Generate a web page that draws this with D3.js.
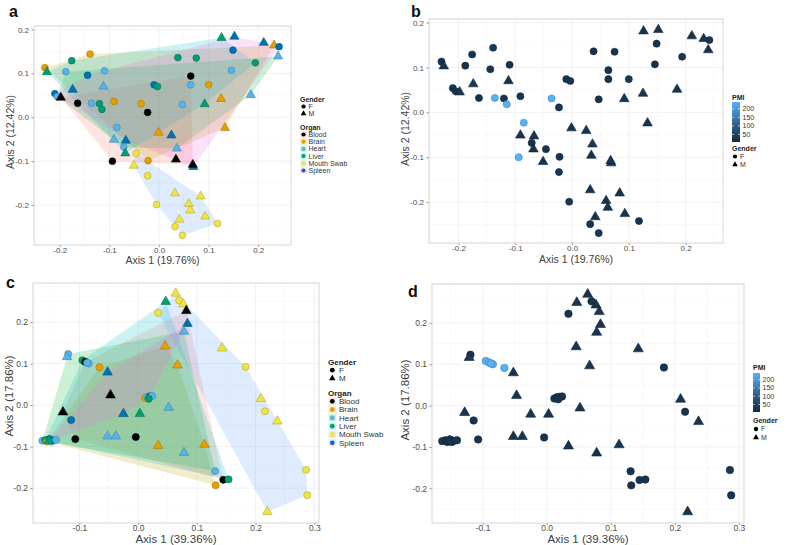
<!DOCTYPE html>
<html><head><meta charset="utf-8">
<script src="https://cdn.jsdelivr.net/npm/d3@7"></script>
<style>
body{margin:0;background:#fff}
text{font-family:"Liberation Sans",Arial,Helvetica,sans-serif}
</style>
</head><body>
<svg id="chart" width="787" height="545"></svg>
<script>
// ---------------- data ----------------
const organs = ["Blood","Brain","Heart","Liver","Mouth Swab","Spleen"];
const organPointColors = ["#000000","#E69F00","#56B4E9","#009E73","#F0E442","#0072B2"];
const organHullColors = ["#F8766D","#B79F00","#00BA38","#00BFC4","#619CFF","#F564E3"];
const genderLabels = ["F","M"];
const pmiTickValues = [50,100,150,200];
const pmiRange = [5,240];
const pmiColors = ["#132B43","#56B1F7"];

const ticksAB = [-0.2,-0.1,0.0,0.1,0.2];
const ticksCDx = [-0.1,0.0,0.1,0.2,0.3];
const ticksCDy = [-0.2,-0.1,0.0,0.1,0.2];
const titlesAB = ["Axis 1 (19.76%)","Axis 2 (12.42%)"];
const titlesCD = ["Axis 1 (39.36%)","Axis 2 (17.86%)"];
const panelLetters = ["a","b","c","d"];

// ordination 1 (panels a, b)
const abX = [-0.230,-0.226,-0.176,-0.139,-0.188,-0.144,-0.110,-0.112,-0.174,-0.210,
 -0.205,-0.198,-0.164,-0.136,-0.120,-0.115,-0.091,-0.036,-0.023,-0.010,
 -0.003,0.038,0.075,0.064,0.064,0.100,0.047,0.092,0.125,0.133,
 0.126,0.152,0.149,0.146,0.194,0.211,0.232,0.242,0.240,0.185,
 -0.085,-0.091,-0.067,-0.071,-0.068,-0.046,-0.094,-0.051,-0.022,-0.023,
 -0.001,0.025,0.036,0.034,0.069,0.068,0.032,0.084,-0.005,0.060,
 0.063,0.093,0.041,0.032,0.047,0.118];
const abY = [0.113,0.103,0.129,0.144,0.104,0.096,0.106,0.070,0.063,0.054,
 0.047,0.045,0.032,0.032,0.031,0.018,0.036,0.031,0.011,0.074,
 0.070,0.136,0.135,0.094,0.074,0.074,0.029,0.030,0.042,-0.024,
 0.181,0.184,0.153,0.107,0.124,0.170,0.164,0.161,0.139,0.051,
 -0.023,-0.051,-0.053,-0.068,-0.082,-0.082,-0.100,-0.110,-0.099,-0.133,
 -0.035,-0.041,-0.071,-0.096,-0.113,-0.108,-0.173,-0.180,-0.199,-0.197,
 -0.212,-0.226,-0.233,-0.249,-0.269,-0.242];
const abGender = ("FMFFFFFMMF"+"FMFFFFFFFF"+"FFFFFFFMMM"+"MMFFFMMFMM"+"FMMFMFFMFF"+"MMMMMMMMFM"+"MMMFFF").split("");
const abOrgan = ["Brain","Liver","Liver","Brain","Heart","Spleen","Heart","Heart","Spleen","Spleen",
 "Heart","Blood","Blood","Heart","Liver","Liver","Brain","Brain","Blood","Spleen",
 "Liver","Liver","Liver","Blood","Heart","Brain","Heart","Liver","Brain","Brain",
 "Liver","Spleen","Spleen","Heart","Liver","Spleen","Brain","Spleen","Heart","Heart",
 "Heart","Heart","Spleen","Heart","Liver","Mouth Swab","Blood","Mouth Swab","Brain","Mouth Swab",
 "Brain","Spleen","Heart","Blood","Spleen","Blood","Mouth Swab","Mouth Swab","Mouth Swab","Mouth Swab",
 "Mouth Swab","Mouth Swab","Mouth Swab","Mouth Swab","Mouth Swab","Mouth Swab"];
const abPMI = [20,25,20,30,20,25,20,20,30,20,
 20,25,20,240,20,240,20,240,25,20,
 20,20,25,20,20,30,20,20,25,20,
 20,25,20,20,25,20,20,25,20,20,
 240,20,25,20,20,25,240,20,20,25,
 20,20,25,20,20,25,20,20,25,20,
 20,25,20,20,25,20];

// ordination 2 (panels c, d)
const cdX = [0.064,0.047,0.070,0.077,0.082,0.034,0.084,0.078,0.046,0.143,
 0.067,0.183,-0.119,-0.121,-0.095,-0.090,-0.084,-0.066,-0.052,-0.047,
 0.012,0.016,0.020,0.024,0.018,0.052,-0.128,-0.114,-0.025,0.003,
 -0.052,-0.038,-0.004,-0.107,-0.163,-0.158,-0.155,-0.151,-0.148,-0.145,
 -0.140,-0.152,0.034,0.113,0.078,0.131,0.145,0.154,0.132,0.209,
 0.216,0.237,0.286,0.288,0.220,-0.087];
const cdY = [0.269,0.249,0.252,0.243,0.227,0.222,0.196,0.177,0.142,0.137,
 0.096,0.092,0.123,0.116,0.108,0.104,0.100,0.091,0.079,0.024,
 0.017,0.020,0.021,0.022,0.015,-0.006,-0.017,-0.036,-0.021,-0.021,
 -0.075,-0.075,-0.077,-0.082,-0.086,-0.084,-0.088,-0.082,-0.088,-0.085,
 -0.084,-0.086,-0.098,-0.095,-0.115,-0.159,-0.180,-0.179,-0.193,0.015,
 -0.015,-0.039,-0.156,-0.217,-0.257,0.102];
const cdGender = ("MMFMMFMMMM"+"MFFMFFFFMM"+"FFFFFMMFMM"+"MMFFFFFFFF"+"FMMMMFFFFM"+"FMFFMF").split("");
const cdOrgan = ["Mouth Swab","Liver","Mouth Swab","Mouth Swab","Blood","Mouth Swab","Spleen","Heart","Brain","Mouth Swab",
 "Brain","Mouth Swab","Heart","Heart","Liver","Blood","Heart","Brain","Spleen","Blood",
 "Brain","Heart","Spleen","Heart","Liver","Heart","Blood","Spleen","Spleen","Liver",
 "Heart","Heart","Blood","Blood","Heart","Liver","Brain","Spleen","Heart","Spleen",
 "Heart","Liver","Brain","Brain","Heart","Heart","Blood","Liver","Brain","Mouth Swab",
 "Mouth Swab","Mouth Swab","Mouth Swab","Mouth Swab","Mouth Swab","Heart"];
const cdPMI = [20,25,20,20,25,20,20,25,20,20,
 25,20,20,25,240,240,240,240,20,25,
 20,20,25,20,20,25,20,20,25,20,
 20,25,20,20,25,20,20,25,20,20,
 25,20,20,25,20,20,25,20,20,25,
 20,20,25,20,20,240];

// ---------------- drawing ----------------
const svg = d3.select("#chart");
svg.append("rect").attr("width",787).attr("height",545).attr("fill","#fff");

const organIndex = o => organs.indexOf(o);
const pmiColor = d3.scaleLinear().domain(pmiRange).range(pmiColors).interpolate(d3.interpolateLab);
const fmt = d => d.toFixed(1);

function drawFrame(cfg){
  const g = svg.append("g");
  const x = d3.scaleLinear().domain(cfg.xdom).range([cfg.left,cfg.right]);
  const y = d3.scaleLinear().domain(cfg.ydom).range([cfg.bottom,cfg.top]);
  const minorX = d3.range(Math.ceil(cfg.xdom[0]/0.05), Math.floor(cfg.xdom[1]/0.05)+1).map(k=>k*0.05).filter(v=>Math.abs(Math.round(v*20))%2===1);
  const minorY = d3.range(Math.ceil(cfg.ydom[0]/0.05), Math.floor(cfg.ydom[1]/0.05)+1).map(k=>k*0.05).filter(v=>Math.abs(Math.round(v*20))%2===1);
  const xt = cfg.xticks.filter(v=>v>=cfg.xdom[0]&&v<=cfg.xdom[1]);
  g.selectAll(".mx").data(minorX).join("line").attr("x1",d=>x(d)).attr("x2",d=>x(d)).attr("y1",cfg.top).attr("y2",cfg.bottom).attr("stroke","#f5f5f5").attr("stroke-width",0.5);
  g.selectAll(".my").data(minorY).join("line").attr("y1",d=>y(d)).attr("y2",d=>y(d)).attr("x1",cfg.left).attr("x2",cfg.right).attr("stroke","#f5f5f5").attr("stroke-width",0.5);
  g.selectAll(".gx").data(xt).join("line").attr("x1",d=>x(d)).attr("x2",d=>x(d)).attr("y1",cfg.top).attr("y2",cfg.bottom).attr("stroke","#ebebeb").attr("stroke-width",0.7);
  g.selectAll(".gy").data(cfg.yticks).join("line").attr("y1",d=>y(d)).attr("y2",d=>y(d)).attr("x1",cfg.left).attr("x2",cfg.right).attr("stroke","#ebebeb").attr("stroke-width",0.7);

  const ax = g.append("g").attr("transform",`translate(0,${cfg.bottom})`)
    .call(d3.axisBottom(x).tickValues(xt).tickSize(2).tickPadding(0).tickFormat(fmt));
  const ay = g.append("g").attr("transform",`translate(${cfg.left},0)`)
    .call(d3.axisLeft(y).tickValues(cfg.yticks).tickSize(2.5).tickPadding(2.5).tickFormat(fmt));
  [ax,ay].forEach(a=>{
    a.select(".domain").remove();
    a.selectAll("line").attr("stroke","#444").attr("stroke-width",0.6);
    a.selectAll("text").attr("fill","#4d4d4d").attr("font-size",cfg.tickFont).attr("font-family","Liberation Sans, Arial, sans-serif");
  });
  g.append("text").attr("x",(cfg.left+cfg.right)/2).attr("y",cfg.xTitleY).attr("text-anchor","middle")
    .attr("font-size",cfg.titleFont).attr("fill","#404040").text(cfg.titles[0]);
  g.append("text").attr("transform",`translate(${cfg.yTitleX},${cfg.yTitleCenter}) rotate(-90)`).attr("text-anchor","middle")
    .attr("dy","0.35em").attr("font-size",cfg.titleFont).attr("fill","#404040").text(cfg.titles[1]);
  g.append("text").attr("x",cfg.letterX).attr("y",cfg.letterY).attr("font-size",16).attr("font-weight","bold").attr("fill","#111").text(cfg.letter);
  return {g,x,y};
}

function symbolPath(gender,size){
  return d3.symbol().type(gender==="F"?d3.symbolCircle:d3.symbolTriangle).size(size)();
}

function drawPoints(g,x,y,X,Y,G,colorOf,size){
  const idx = d3.range(X.length);
  g.append("g").selectAll("path").data(idx).join("path")
    .attr("d",i=>symbolPath(G[i],size))
    .attr("transform",i=>`translate(${x(X[i])},${y(Y[i])})`)
    .attr("fill",i=>colorOf(i))
    .attr("stroke",i=>d3.color(colorOf(i)).darker(0.8))
    .attr("stroke-width",0.6);
}

function drawHulls(g,x,y,X,Y,O){
  organs.forEach((o,k)=>{
    const pts = d3.range(X.length).filter(i=>O[i]===o).map(i=>[x(X[i]),y(Y[i])]);
    const hull = d3.polygonHull(pts);
    if(!hull) return;
    g.append("path").attr("d","M"+hull.join("L")+"Z").attr("fill",organHullColors[k]).attr("fill-opacity",0.2).attr("stroke","none");
  });
}

function drawBorder(cfg){
  svg.append("rect").attr("x",cfg.left).attr("y",cfg.top).attr("width",cfg.right-cfg.left).attr("height",cfg.bottom-cfg.top)
    .attr("fill","none").attr("stroke","#d4d4d4").attr("stroke-width",1);
}

function organLegend(L){
  const g = svg.append("g").attr("font-size",L.font).attr("fill","#333");
  g.append("text").attr("x",L.x).attr("y",L.gTitleY).attr("dy","0.35em").attr("font-weight","bold").attr("fill","#222").text("Gender");
  genderLabels.forEach((gl,i)=>{
    const yy = L.gY[i];
    g.append("path").attr("d",symbolPath(gl,L.symSize)).attr("transform",`translate(${L.symX},${yy})`).attr("fill","#000");
    g.append("text").attr("x",L.textX).attr("y",yy).attr("dy","0.35em").text(gl);
  });
  g.append("text").attr("x",L.x).attr("y",L.oTitleY).attr("dy","0.35em").attr("font-weight","bold").attr("fill","#222").text("Organ");
  organs.forEach((o,k)=>{
    const yy = L.oY0 + k*L.oStep;
    g.append("rect").attr("x",L.symX-L.key/2).attr("y",yy-L.key/2).attr("width",L.key).attr("height",L.key)
      .attr("fill",organHullColors[k]).attr("fill-opacity",0.2);
    g.append("path").attr("d",symbolPath("F",L.symSize)).attr("transform",`translate(${L.symX},${yy})`).attr("fill",organPointColors[k]);
    g.append("text").attr("x",L.textX).attr("y",yy).attr("dy","0.35em").text(o);
  });
}

let gradCount = 0;
function pmiLegend(L){
  const g = svg.append("g").attr("font-size",L.font).attr("fill","#333");
  g.append("text").attr("x",L.x).attr("y",L.titleY).attr("dy","0.35em").attr("font-weight","bold").attr("fill","#222").text("PMI");
  const id = "pmigrad"+(gradCount++);
  const grad = svg.append("defs").append("linearGradient").attr("id",id).attr("x1",0).attr("x2",0).attr("y1",1).attr("y2",0);
  d3.range(0,1.0001,0.1).forEach(t=>{
    grad.append("stop").attr("offset",t).attr("stop-color",pmiColor(pmiRange[0]+t*(pmiRange[1]-pmiRange[0])));
  });
  g.append("rect").attr("x",L.x).attr("y",L.barTop).attr("width",L.barW).attr("height",L.barBottom-L.barTop).attr("fill",`url(#${id})`);
  const s = d3.scaleLinear().domain(pmiRange).range([L.barBottom,L.barTop]);
  pmiTickValues.forEach(v=>{
    g.append("line").attr("x1",L.x).attr("x2",L.x+L.barW*0.25).attr("y1",s(v)).attr("y2",s(v)).attr("stroke","#fff").attr("stroke-width",0.6);
    g.append("line").attr("x1",L.x+L.barW*0.75).attr("x2",L.x+L.barW).attr("y1",s(v)).attr("y2",s(v)).attr("stroke","#fff").attr("stroke-width",0.6);
    g.append("text").attr("x",L.x+L.barW+2.5).attr("y",s(v)).attr("dy","0.35em").text(v);
  });
  g.append("text").attr("x",L.x).attr("y",L.gTitleY).attr("dy","0.35em").attr("font-weight","bold").attr("fill","#222").text("Gender");
  genderLabels.forEach((gl,i)=>{
    const yy = L.gY[i];
    g.append("path").attr("d",symbolPath(gl,L.symSize)).attr("transform",`translate(${L.symX},${yy})`).attr("fill","#000");
    g.append("text").attr("x",L.textX).attr("y",yy).attr("dy","0.35em").text(gl);
  });
}

// panel layouts
const cfgA = {left:34,right:291,top:26,bottom:245,xdom:[-0.252,0.266],ydom:[-0.291,0.208],xticks:ticksAB,yticks:ticksAB,
  titles:titlesAB,tickFont:8,titleFont:10.5,xTitleY:263.5,yTitleX:10,yTitleCenter:132,letter:panelLetters[0],letterX:9,letterY:17};
const cfgB = {left:429,right:723,top:19,bottom:243,xdom:[-0.252,0.266],ydom:[-0.291,0.208],xticks:ticksAB,yticks:ticksAB,
  titles:titlesAB,tickFont:8,titleFont:10.5,xTitleY:262.5,yTitleX:405,yTitleCenter:129,letter:panelLetters[1],letterX:411,letterY:17};
const cfgC = {left:33,right:319,top:283,bottom:523,xdom:[-0.179,0.308],ydom:[-0.284,0.294],xticks:ticksCDx,yticks:ticksCDy,
  titles:titlesCD,tickFont:8.5,titleFont:11.5,xTitleY:542.5,yTitleX:9,yTitleCenter:396,letter:panelLetters[2],letterX:6,letterY:288};
const cfgD = {left:432,right:744,top:284,bottom:523,xdom:[-0.179,0.308],ydom:[-0.284,0.294],xticks:ticksCDx,yticks:ticksCDy,
  titles:titlesCD,tickFont:8.5,titleFont:11.5,xTitleY:542.5,yTitleX:405,yTitleCenter:400,letter:panelLetters[3],letterX:408,letterY:297};

// panel a
{
  const {g,x,y} = drawFrame(cfgA);
  drawHulls(g,x,y,abX,abY,abOrgan);
  drawPoints(g,x,y,abX,abY,abGender,i=>organPointColors[organIndex(abOrgan[i])],36);
  drawBorder(cfgA);
  organLegend({x:300,gTitleY:99.5,gY:[106.5,113.5],oTitleY:127.5,oY0:134.5,oStep:7.2,font:7,symX:303.5,textX:308.5,symSize:14,key:6.5});
}
// panel b
{
  const {g,x,y} = drawFrame(cfgB);
  drawPoints(g,x,y,abX,abY,abGender,i=>pmiColor(abPMI[i]),40);
  drawBorder(cfgB);
  pmiLegend({x:732,titleY:97.5,barTop:102,barBottom:142,barW:8,font:7,gTitleY:148.5,gY:[156.5,164.5],symX:735,textX:740,symSize:14});
}
// panel c
{
  const {g,x,y} = drawFrame(cfgC);
  drawHulls(g,x,y,cdX,cdY,cdOrgan);
  drawPoints(g,x,y,cdX,cdY,cdGender,i=>organPointColors[organIndex(cdOrgan[i])],40);
  drawBorder(cfgC);
  organLegend({x:328,gTitleY:362.5,gY:[370.2,378.3],oTitleY:393,oY0:401.3,oStep:8.3,font:8,symX:332.3,textX:339,symSize:18,key:7.5});
}
// panel d
{
  const {g,x,y} = drawFrame(cfgD);
  drawPoints(g,x,y,cdX,cdY,cdGender,i=>pmiColor(cdPMI[i]),44);
  drawBorder(cfgD);
  pmiLegend({x:753,titleY:367.5,barTop:373,barBottom:412,barW:7,font:7,gTitleY:421,gY:[429,437.5],symX:756,textX:761,symSize:15});
}
</script>
</body></html>
